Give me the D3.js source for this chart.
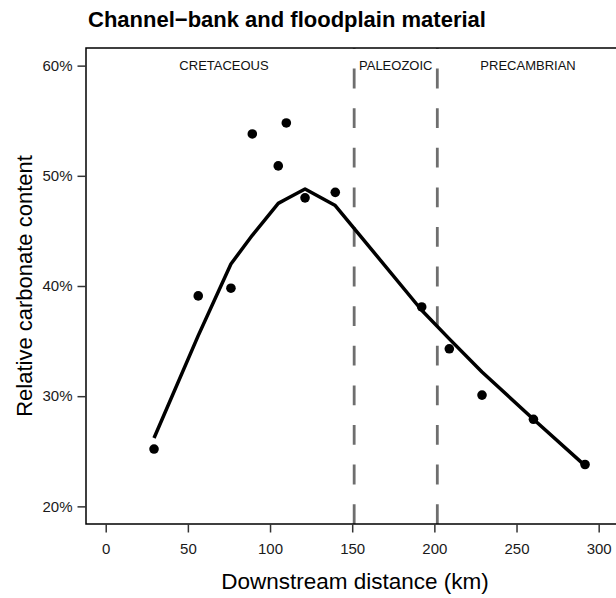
<!DOCTYPE html>
<html>
<head>
<meta charset="utf-8">
<script src="https://cdn.jsdelivr.net/npm/d3@7/dist/d3.min.js"></script>
<style>
  html, body { margin: 0; padding: 0; background: #fff; }
  svg { display: block; font-family: "Liberation Sans", Arial, Helvetica, sans-serif; }
</style>
</head>
<body>
<svg id="chart" width="616" height="598"></svg>
<script>
// Sampling sites along the river: distance downstream and carbonate share
const distanceKm   = [29.4, 56.3, 76.2, 89.2, 105.0, 109.9, 121.3, 139.7, 192.3, 209.1, 229.0, 260.3, 291.7];
const carbonatePct = [25.2, 39.1, 39.8, 53.8, 50.9, 54.8, 48.0, 48.5, 38.1, 34.3, 30.1, 27.9, 23.8];
// Smoothed trend evaluated at each site
const fittedPct    = [26.2, 35.5, 42.0, 44.6, 47.5, 47.9, 48.8, 47.3, 37.8, 35.2, 32.2, 27.9, 23.7];

// Geological boundaries (km) and the zone names between them
const boundariesKm = [151.2, 201.8];
const zoneNames    = ["CRETACEOUS", "PALEOZOIC", "PRECAMBRIAN"];
const zoneCentersKm = [72, 176.5, 257];

const xTicks = [0, 50, 100, 150, 200, 250, 300];
const yTicks = [20, 30, 40, 50, 60];

const svg = d3.select("#chart");
const box = { left: 86, right: 618.4, top: 48, bottom: 524 };

// Axis ranges padded by 4% on each side
const x = d3.scaleLinear().domain([-12, 312]).range([box.left, box.right]);
const y = d3.scaleLinear().domain([18.4, 61.6]).range([box.bottom, box.top]);

// Title
svg.append("text")
  .attr("x", 88).attr("y", 27)
  .attr("font-size", 22).attr("font-weight", "bold").attr("fill", "#000")
  .text("Channel\u2212bank and floodplain material");

// Geological zone boundaries, dashes laid out from the bottom edge upward
boundariesKm.forEach(b => {
  svg.append("line")
    .attr("x1", x(b)).attr("x2", x(b))
    .attr("y1", box.bottom).attr("y2", box.top)
    .attr("stroke", "#6e6e6e").attr("stroke-width", 2.8)
    .attr("stroke-dasharray", "19.8,19.8");
});

// Zone labels
zoneNames.forEach((name, i) => {
  svg.append("text")
    .attr("x", x(zoneCentersKm[i])).attr("y", y(60))
    .attr("dy", "0.35em").attr("text-anchor", "middle")
    .attr("font-size", 13).attr("fill", "#111")
    .text(name);
});

// Plot frame: left, top and bottom edges
svg.append("path")
  .attr("d", `M${box.right},${box.top}H${box.left}V${box.bottom}H${box.right}`)
  .attr("fill", "none").attr("stroke", "#000").attr("stroke-width", 1.5);

// Y axis
const yAxis = d3.axisLeft(y).tickValues(yTicks)
  .tickSize(8.5).tickPadding(5).tickFormat(d => d + "%");
const gy = svg.append("g").attr("transform", `translate(${box.left},0)`).call(yAxis);
gy.select(".domain").remove();
gy.selectAll(".tick line").attr("stroke", "#333").attr("stroke-width", 1.5);
gy.selectAll(".tick text").attr("font-size", 15).attr("fill", "#1a1a1a")
  .attr("font-family", "Liberation Sans, Arial, sans-serif");

// X axis
const xAxis = d3.axisBottom(x).tickValues(xTicks).tickSize(8.5).tickPadding(11);
const gx = svg.append("g").attr("transform", `translate(0,${box.bottom})`).call(xAxis);
gx.select(".domain").remove();
gx.selectAll(".tick line").attr("stroke", "#333").attr("stroke-width", 1.5);
gx.selectAll(".tick text").attr("font-size", 15).attr("fill", "#1a1a1a")
  .attr("font-family", "Liberation Sans, Arial, sans-serif");

// Axis titles
svg.append("text")
  .attr("x", 355).attr("y", 589)
  .attr("text-anchor", "middle").attr("font-size", 22.5).attr("fill", "#000")
  .text("Downstream distance (km)");

svg.append("text")
  .attr("transform", `translate(32,${(box.top + box.bottom) / 2}) rotate(-90)`)
  .attr("text-anchor", "middle").attr("font-size", 22).attr("fill", "#000")
  .text("Relative carbonate content");

// Trend line
const line = d3.line().x(d => x(d[0])).y(d => y(d[1]));
svg.append("path")
  .datum(d3.zip(distanceKm, fittedPct))
  .attr("d", line)
  .attr("fill", "none").attr("stroke", "#000").attr("stroke-width", 3.5)
  .attr("stroke-linejoin", "round");

// Observed samples
svg.append("g").selectAll("circle")
  .data(d3.zip(distanceKm, carbonatePct))
  .join("circle")
  .attr("cx", d => x(d[0])).attr("cy", d => y(d[1]))
  .attr("r", 4.8).attr("fill", "#000");
</script>
</body>
</html>
